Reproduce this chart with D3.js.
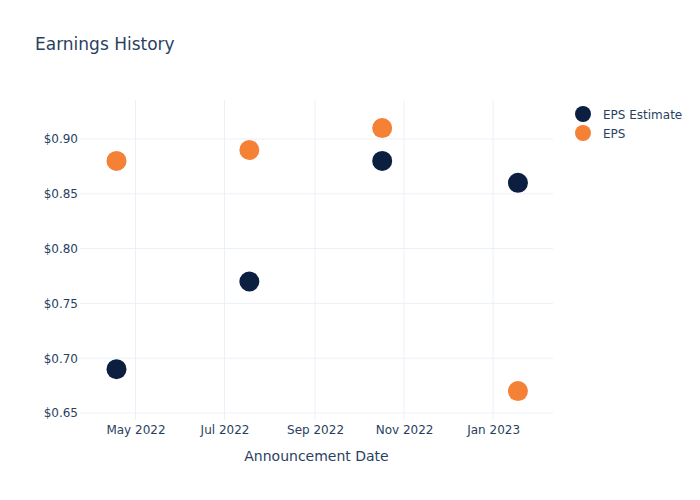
<!DOCTYPE html>
<html><head><meta charset="utf-8">
<script src="https://cdn.jsdelivr.net/npm/d3@7"></script>
<style>body{margin:0;background:#fff}svg{font-family:"DejaVu Sans",Verdana,sans-serif}</style>
</head><body><div id="chart"></div>
<script>
const dates = ["2022-04-18", "2022-07-18", "2022-10-17", "2023-01-18"];
const epsEstimate = [0.69, 0.77, 0.88, 0.86];
const eps = [0.88, 0.89, 0.91, 0.67];
const seriesNames = ["EPS Estimate", "EPS"];
const seriesColors = ["#0c1f40", "#f58136"];
const yTicks = [0.65, 0.70, 0.75, 0.80, 0.85, 0.90];
const xTicks = ["2022-05-01", "2022-07-01", "2022-09-01", "2022-11-01", "2023-01-01"];

const W = 700, H = 500;
const m = {l: 80, r: 147, t: 100, b: 80};
const parse = d3.utcParse("%Y-%m-%d");
const svg = d3.select("#chart").append("svg").attr("width", W).attr("height", H);

const x = d3.scaleUtc().domain([parse("2022-03-24"), parse("2023-02-11")]).range([m.l, W - m.r]);
const y = d3.scaleLinear().domain([0.6436, 0.9356]).range([H - m.b, m.t]);
const txt = "#2a3f5f", grid = "#ebf0f8";

// grid
svg.append("g").selectAll("line").data(xTicks).join("line")
  .attr("x1", d => x(parse(d))).attr("x2", d => x(parse(d)))
  .attr("y1", m.t).attr("y2", H - m.b).attr("stroke", grid);
svg.append("g").selectAll("line").data(yTicks).join("line")
  .attr("x1", m.l).attr("x2", W - m.r)
  .attr("y1", d => y(d)).attr("y2", d => y(d)).attr("stroke", grid);

// axes
const xAxis = d3.axisBottom(x).tickValues(xTicks.map(parse)).tickFormat(d3.utcFormat("%b %Y")).tickSize(0).tickPadding(5);
const gx = svg.append("g").attr("transform", `translate(0,${H - m.b})`).call(xAxis);
gx.select(".domain").remove();
gx.selectAll("text").attr("fill", txt).attr("font-size", 12);

const yAxis = d3.axisLeft(y).tickValues(yTicks).tickFormat(d => "$" + d.toFixed(2)).tickSize(0).tickPadding(2);
const gy = svg.append("g").attr("transform", `translate(${m.l},0)`).call(yAxis);
gy.select(".domain").remove();
gy.selectAll("text").attr("fill", txt).attr("font-size", 12);
gx.attr("font-family", null); gy.attr("font-family", null);

// points
const series = [epsEstimate, eps];
series.forEach((vals, i) => {
  svg.append("g").selectAll("circle").data(vals).join("circle")
    .attr("cx", (d, j) => x(parse(dates[j]))).attr("cy", d => y(d))
    .attr("r", 10).attr("fill", seriesColors[i]);
});

// title
svg.append("text").attr("x", 35).attr("y", 50).attr("fill", txt).attr("font-size", 17).text("Earnings History");
svg.append("text").attr("x", (m.l + W - m.r) / 2).attr("y", 461).attr("text-anchor", "middle")
  .attr("fill", txt).attr("font-size", 14).text("Announcement Date");

// legend
const lg = svg.append("g");
seriesNames.forEach((n, i) => {
  const yy = 114 + i * 19;
  lg.append("circle").attr("cx", 583).attr("cy", yy).attr("r", 8).attr("fill", seriesColors[i]);
  lg.append("text").attr("x", 603).attr("y", yy + 4.5).attr("fill", txt).attr("font-size", 12).text(n);
});
</script></body></html>
